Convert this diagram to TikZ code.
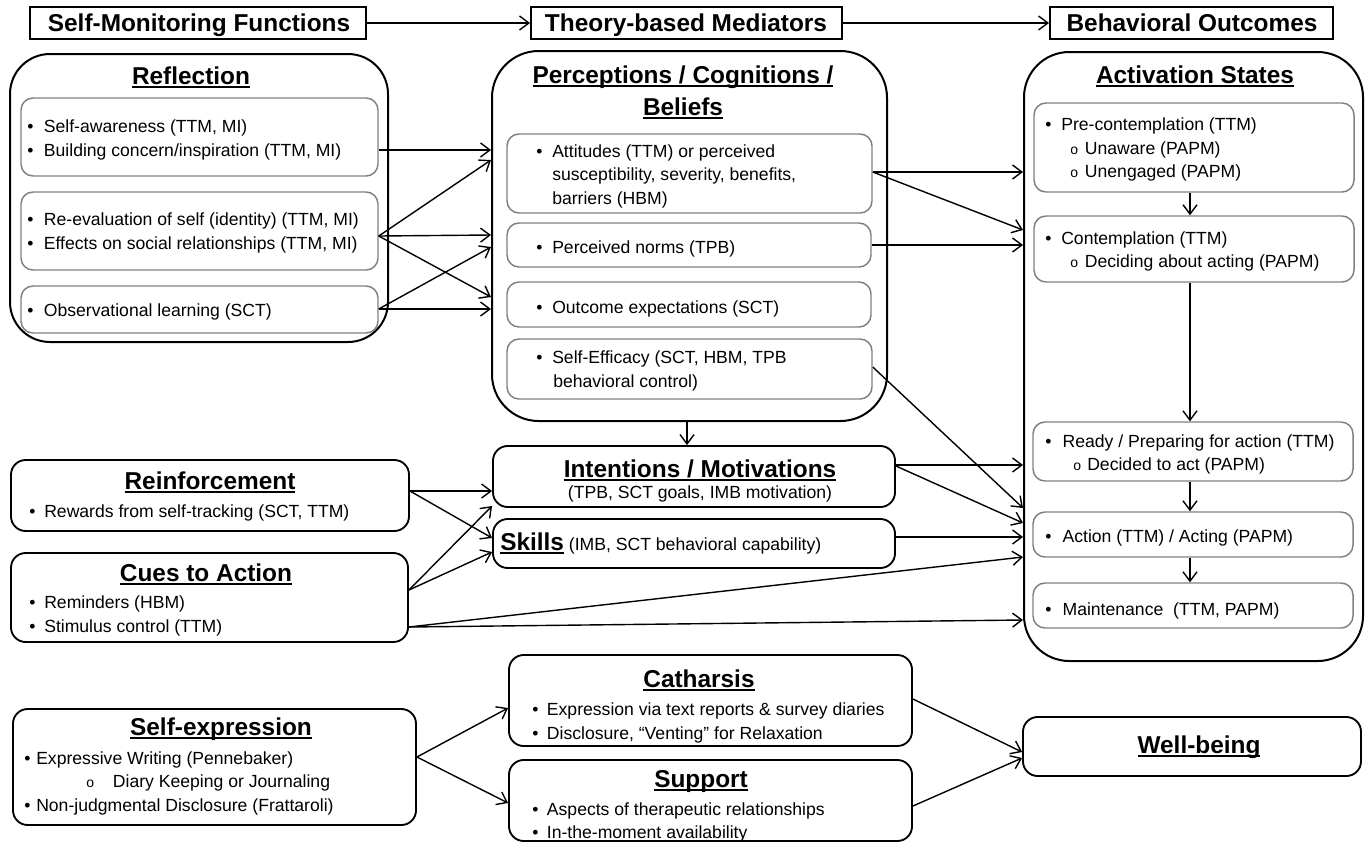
\documentclass[tikz,border=0pt]{standalone}
\usepackage{fontspec}
\setmainfont{Liberation Sans}
\usetikzlibrary{arrows.meta,fit}
\newcommand\bodyf{\fontsize{13.2}{16}\selectfont}
\newcommand\ttlf{\fontsize{18.3}{22}\selectfont\bfseries}
\newsavebox\ulbox
\newcommand\ulin[1]{\sbox\ulbox{#1}\rlap{\usebox\ulbox}\rule[-3.2pt]{\wd\ulbox}{1.4pt}}
\newcommand\bul[1][12pt]{\makebox[#1][l]{•}}
\newcommand\subo[1][11pt]{\makebox[#1][l]{\fontsize{10.5}{10}\selectfont o}}
\begin{document}
\begin{tikzpicture}[x=0.75pt,y=-0.75pt,
  txt/.style={anchor=base west, inner sep=0pt, font=\bodyf},
  ctxt/.style={anchor=base, inner sep=0pt, font=\bodyf},
  ttl/.style={anchor=base, inner sep=0pt, font=\ttlf},
  hdrbox/.style={draw=black, line width=1.5pt, inner sep=0pt},
  outerbox/.style={draw=black, line width=1.5pt, rounded corners=32pt, inner sep=0pt},
  innerbox/.style={draw=black!50, line width=1.1pt, rounded corners=9pt, inner sep=0pt},
  midbox/.style={draw=black, line width=1.4pt, rounded corners=11pt, inner sep=0pt},
  arr/.style={-{Straight Barb[length=7pt,width=10.5pt]}, line width=1.05pt}]
\fill[white] (0,0) rectangle (1370,843);
\useasboundingbox (0,0) rectangle (1370,843);

% headers
\node[hdrbox, fit={(30,7) (366,39)}] (h1) {};
\node[hdrbox, fit={(531,7) (842,39)}] (h2) {};
\node[hdrbox, fit={(1050,7) (1333,39)}] (h3) {};
\node[ttl] (h1t) at (199,31) {Self-Monitoring Functions};
\node[ttl] (h2t) at (686,31) {Theory-based Mediators};
\node[ttl] (h3t) at (1192,31) {Behavioral Outcomes};

% Reflection
\node[outerbox, rounded corners=30pt, fit={(10,54) (388,342)}] (refl) {};
\node[innerbox, fit={(21,98) (378,176)}] (r1) {};
\node[innerbox, fit={(21,192) (378,270)}] (r2) {};
\node[innerbox, fit={(21,286) (378,333)}] (r3) {};
\node[ttl] (reflt) at (191,84) {\ulin{Reflection}};
\node[txt] (r1a) at (27,132.5) {\bul[12.5pt]Self-awareness (TTM, MI)};
\node[txt] (r1b) at (27,156.5) {\bul[12.5pt]Building concern/inspiration (TTM, MI)};
\node[txt] (r2a) at (27,225) {\bul[12.5pt]Re-evaluation of self (identity) (TTM, MI)};
\node[txt] (r2b) at (27,249) {\bul[12.5pt]Effects on social relationships (TTM, MI)};
\node[txt] (r3a) at (27,316) {\bul[12.5pt]Observational learning (SCT)};

% Perceptions
\node[outerbox, rounded corners=35pt, fit={(492,51) (887,421)}] (perc) {};
\node[innerbox, fit={(507,134) (872,213)}] (att) {};
\node[innerbox, fit={(507,223) (871,267)}] (nrm) {};
\node[innerbox, fit={(507,282) (871,327)}] (oe) {};
\node[innerbox, fit={(507,339) (872,399)}] (se) {};
\node[ttl] (perct1) at (683,83) {\ulin{Perceptions / Cognitions /}};
\node[ttl] (perct2) at (683,115) {\ulin{Beliefs}};
\node[txt] (a1) at (536,157) {\bul Attitudes (TTM) or perceived};
\node[txt] (a2) at (552,180.5) {susceptibility, severity, benefits,};
\node[txt] (a3) at (552,204) {barriers (HBM)};
\node[txt] (n1) at (536,253) {\bul Perceived norms (TPB)};
\node[txt] (o1) at (536,313) {\bul Outcome expectations (SCT)};
\node[txt] (e1) at (536,363.5) {\bul Self-Efficacy (SCT, HBM, TPB};
\node[txt] (e2) at (553,387) {behavioral control)};

% Activation states
\node[outerbox, rounded corners=34pt, fit={(1024,52) (1363,661)}] (act) {};
\node[innerbox, fit={(1034,103) (1354,192)}] (pre) {};
\node[innerbox, fit={(1034,216) (1354,282)}] (con) {};
\node[innerbox, fit={(1033,422) (1353,481)}] (rdy) {};
\node[innerbox, fit={(1033,512) (1353,557)}] (acn) {};
\node[innerbox, fit={(1033,583) (1353,628)}] (mnt) {};
\node[ttl] (actt) at (1195,83) {\ulin{Activation States}};
\node[txt] (p1) at (1045,130) {\bul Pre-contemplation (TTM)};
\node[txt] (p2) at (1070,154) {\subo Unaware (PAPM)};
\node[txt] (p3) at (1070,177) {\subo Unengaged (PAPM)};
\node[txt] (c1) at (1045,244) {\bul Contemplation (TTM)};
\node[txt] (c2) at (1070,267) {\subo Deciding about acting (PAPM)};
\node[txt] (rd1) at (1045,447) {\bul[13pt]Ready / Preparing for action (TTM)};
\node[txt] (rd2) at (1073,470) {\subo[10.5pt]Decided to act (PAPM)};
\node[txt] (ac1) at (1045,542) {\bul[13pt]Action (TTM) / Acting (PAPM)};
\node[txt] (m1) at (1045,615) {\bul[13pt]Maintenance\ \ (TTM, PAPM)};

% Reinforcement, Cues
\node[midbox, fit={(11,460) (409,531)}] (rnf) {};
\node[midbox, fit={(11,553) (408,642)}] (cue) {};
\node[ttl] (rnft) at (210,489) {\ulin{Reinforcement}};
\node[txt] (rw) at (29,517) {\bul[11.25pt]Rewards from self-tracking (SCT, TTM)};
\node[ttl] (cuet) at (206,581) {\ulin{Cues to Action}};
\node[txt] (cu1) at (29,608) {\bul[11.25pt]Reminders (HBM)};
\node[txt] (cu2) at (29,632) {\bul[11.25pt]Stimulus control (TTM)};

% Intentions, Skills
\node[midbox, fit={(493,446) (895,507)}] (int) {};
\node[midbox, fit={(493,519) (895,568)}] (skl) {};
\node[ttl] (intt) at (700,477) {\ulin{Intentions / Motivations}};
\node[ctxt] (ints) at (700,498) {(TPB, SCT goals, IMB motivation)};
\node[txt] (sklt) at (500,550) {\ulin{\ttlf Skills} (IMB, SCT behavioral capability)};

% Self-expression, Catharsis, Support, Well-being
\node[midbox, fit={(13,709) (416,825)}] (sex) {};
\node[midbox, fit={(509,655) (912,746)}] (cat) {};
\node[midbox, fit={(509,760) (912,841)}] (sup) {};
\node[midbox, fit={(1023,717) (1361,776)}] (wb) {};
\node[ttl] (sext) at (221,735) {\ulin{Self-expression}};
\node[txt] (se1) at (24,764) {\bul[9pt]Expressive Writing (Pennebaker)};
\node[txt] (se2) at (86,787) {\subo[20pt]Diary Keeping or Journaling};
\node[txt] (se3) at (24,811) {\bul[9pt]Non-judgmental Disclosure (Frattaroli)};
\node[ttl] (catt) at (699,687) {\ulin{Catharsis}};
\node[txt] (ca1) at (532,715) {\bul[11pt]Expression via text reports \& survey diaries};
\node[txt] (ca2) at (532,739) {\bul[11pt]Disclosure, “Venting” for Relaxation};
\node[ttl] (supt) at (701,787) {\ulin{Support}};
\node[txt] (su1) at (532,815) {\bul[11pt]Aspects of therapeutic relationships};
\node[txt] (su2) at (532,838) {\bul[11pt]In-the-moment availability};
\node[ttl] (wbt) at (1199,753) {\ulin{Well-being}};

% connectors
\draw[arr] (h1) -- (h2);
\draw[arr] (h2) -- (h3);
\draw[arr] (r1.east |- 0,150) -- (perc.west |- 0,150);
\draw[arr] (r2.east |- 0,236) -- (perc.west |- 0,160);
\draw[arr] (r2.east |- 0,236) -- (perc.west |- 0,235);
\draw[arr] (r2.east |- 0,236) -- (perc.west |- 0,297);
\draw[arr] (r3.east |- 0,309) -- (perc.west |- 0,247);
\draw[arr] (r3.east |- 0,309) -- (perc.west |- 0,309);
\draw[arr] (att.east |- 0,172) -- (act.west |- 0,172);
\draw[arr] (att.east |- 0,172) -- (act.west |- 0,230);
\draw[arr] (nrm.east |- 0,245) -- (act.west |- 0,245);
\draw[arr] (se.east |- 0,367) -- (act.west |- 0,508);
\draw[arr] (perc.south -| 687,0) -- (int.north -| 687,0);
\draw[arr] (rnf.east |- 0,491) -- (int.west |- 0,491);
\draw[arr] (rnf.east |- 0,491) -- (skl.west |- 0,538);
\draw[arr] (cue.east |- 0,590) -- (int.west |- 0,506);
\draw[arr] (cue.east |- 0,590) -- (skl.west |- 0,552);
\draw[arr] (cue.east |- 0,627) -- (act.west |- 0,557);
\draw[arr] (cue.east |- 0,627) -- (act.west |- 0,620);
\draw[arr] (int.east |- 0,465) -- (act.west |- 0,465);
\draw[arr] (int.east |- 0,466) -- (act.west |- 0,523);
\draw[arr] (skl.east |- 0,537) -- (act.west |- 0,537);
\draw[arr] (pre.south -| 1190,0) -- (con.north -| 1190,0);
\draw[arr] (con.south -| 1190,0) -- (rdy.north -| 1190,0);
\draw[arr] (rdy.south -| 1190,0) -- (acn.north -| 1190,0);
\draw[arr] (acn.south -| 1190,0) -- (mnt.north -| 1190,0);
\draw[arr] (sex.east |- 0,757) -- (cat.west |- 0,708);
\draw[arr] (sex.east |- 0,757) -- (sup.west |- 0,803);
\draw[arr] (cat.east |- 0,699) -- (wb.west |- 0,752);
\draw[arr] (sup.east |- 0,806) -- (wb.west |- 0,758);
\end{tikzpicture}
\end{document}
